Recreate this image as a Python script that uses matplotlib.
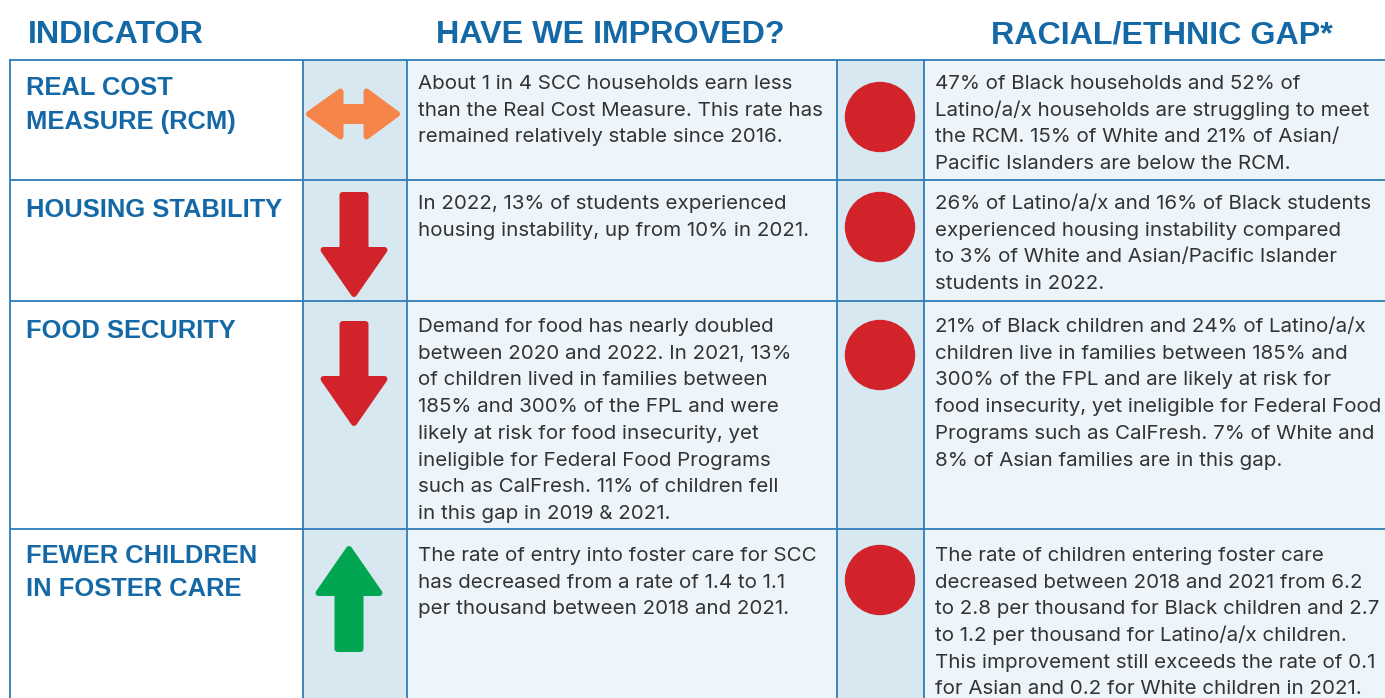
import matplotlib
matplotlib.use("Agg")
import matplotlib.pyplot as plt
from matplotlib.patches import Rectangle, Polygon, Circle

# ---------------- data ----------------
headers = ["INDICATOR", "HAVE WE IMPROVED?", "RACIAL/ETHNIC GAP*"]

indicators = [
    ["REAL COST", "MEASURE (RCM)"],
    ["HOUSING STABILITY"],
    ["FOOD SECURITY"],
    ["FEWER CHILDREN", "IN FOSTER CARE"],
]

trends = ["flat", "down", "down", "up"]          # have we improved?
gap_status = ["red", "red", "red", "red"]        # racial/ethnic gap

improvement_text = [
    ["About 1 in 4 SCC households earn less",
     "than the Real Cost Measure. This rate has",
     "remained relatively stable since 2016."],
    ["In 2022, 13% of students experienced",
     "housing instability, up from 10% in 2021."],
    ["Demand for food has nearly doubled",
     "between 2020 and 2022. In 2021, 13%",
     "of children lived in families between",
     "185% and 300% of the FPL and were",
     "likely at risk for food insecurity, yet",
     "ineligible for Federal Food Programs",
     "such as CalFresh. 11% of children fell",
     "in this gap in 2019 & 2021."],
    ["The rate of entry into foster care for SCC",
     "has decreased from a rate of 1.4 to 1.1",
     "per thousand between 2018 and 2021."],
]

gap_text = [
    ["47% of Black households and 52% of",
     "Latino/a/x households are struggling to meet",
     "the RCM. 15% of White and 21% of Asian/",
     "Pacific Islanders are below the RCM."],
    ["26% of Latino/a/x and 16% of Black students",
     "experienced housing instability compared",
     "to 3% of White and Asian/Pacific Islander",
     "students in 2022."],
    ["21% of Black children and 24% of Latino/a/x",
     "children live in families between 185% and",
     "300% of the FPL and are likely at risk for",
     "food insecurity, yet ineligible for Federal Food",
     "Programs such as CalFresh. 7% of White and",
     "8% of Asian families are in this gap."],
    ["The rate of children entering foster care",
     "decreased between 2018 and 2021 from 6.2",
     "to 2.8 per thousand for Black children and 2.7",
     "to 1.2 per thousand for Latino/a/x children.",
     "This improvement still exceeds the rate of 0.1",
     "for Asian and 0.2 for White children in 2021."],
]

# ---------------- style / layout ----------------
W, H = 1385, 698
BLUE = "#1468a6"
LINE = "#2f7db9"
ICON_BG = "#d8e8f1"
TEXT_BG = "#eef5fa"
TXT = "#333333"
COLORS = {"flat": "#f6854b", "down": "#d2232a", "up": "#00a651", "red": "#d2232a"}

col_x = [10, 303, 407, 837, 924, 1400]
row_y = [60, 180, 301, 529, 720]
icon_top = [None, 192, 321, 545]           # arrow extents per row
icon_bot = [None, 298, 427, 652]
icon_cx = [354, 354, 354, 349]
circle_cy = [117, 227, 355, 580]
label_base = [95, 217, 338, 563]
body_base = [89, 209, 332, 561]

fig = plt.figure(figsize=(W / 100, H / 100), dpi=100)
ax = fig.add_axes([0, 0, 1, 1])
ax.set_xlim(0, W)
ax.set_ylim(H, 0)
ax.axis("off")

# backgrounds
ax.add_patch(Rectangle((0, 0), W, H, color="white", zorder=0))
for i, c in enumerate(["white", ICON_BG, TEXT_BG, ICON_BG, TEXT_BG]):
    ax.add_patch(Rectangle((col_x[i], row_y[0]), col_x[i + 1] - col_x[i],
                           row_y[-1] - row_y[0], color=c, zorder=1, lw=0))

# grid lines
for x in col_x[:-1]:
    ax.plot([x, x], [row_y[0], H + 5], color=LINE, lw=1.3, zorder=2)
for y in row_y[:-1]:
    ax.plot([col_x[0], W + 5], [y, y], color=LINE, lw=1.3, zorder=2)

# headers
hfont = dict(family="Liberation Sans", weight="bold", size=23.2, color=BLUE)
ax.text(28, 43, headers[0], ha="left", va="baseline", **hfont)
ax.text(610, 43, headers[1], ha="center", va="baseline", **hfont)
ax.text(1162, 43, headers[2], ha="center", va="baseline", **hfont)

lfont = dict(family="Liberation Sans", weight="bold", size=18.4, color=BLUE)
bfont = dict(family="Inter", size=14.8, color=TXT)


def draw_arrow(kind, cx, top, bot, color):
    r = 3.0  # corner rounding via stroke
    lw = 2 * r * 72 / 100
    if kind == "flat":
        cy = 114
        l, rr = 305 + r + 1, 401 - r - 1
        hb_l, hb_r = 341 - 0.5, 366 + 0.5
        hh = 25.5 - r
        sh = 10 - r
        pts = [(l, cy), (hb_l, cy - hh), (hb_l, cy - sh), (hb_r, cy - sh),
               (hb_r, cy - hh), (rr, cy), (hb_r, cy + hh), (hb_r, cy + sh),
               (hb_l, cy + sh), (hb_l, cy + hh)]
    else:
        sw = 14.5 - r
        hw = 33.5 - r
        hl = 46
        if kind == "down":
            t, tip = top + r, bot - r - 1
            hy = tip - hl + 2
            pts = [(cx - sw, t), (cx + sw, t), (cx + sw, hy), (cx + hw, hy),
                   (cx, tip), (cx - hw, hy), (cx - sw, hy)]
        else:
            tip, b = top + r + 1, bot - r
            hy = tip + hl - 2
            pts = [(cx - sw, b), (cx + sw, b), (cx + sw, hy), (cx + hw, hy),
                   (cx, tip), (cx - hw, hy), (cx - sw, hy)]
    ax.add_patch(Polygon(pts, closed=True, facecolor=color, edgecolor=color,
                         lw=lw, joinstyle="round", zorder=3))


for i in range(len(indicators)):
    # indicator label
    for k, line in enumerate(indicators[i]):
        ax.text(26, label_base[i] + k * 33.5, line, ha="left", va="baseline", **lfont)
    # trend icon
    draw_arrow(trends[i], icon_cx[i], icon_top[i], icon_bot[i], COLORS[trends[i]])
    # improvement text
    for k, line in enumerate(improvement_text[i]):
        ax.text(418, body_base[i] + k * 26.7, line, ha="left", va="baseline", **bfont)
    # gap circle
    ax.add_patch(Circle((880, circle_cy[i]), 34.5, color=COLORS[gap_status[i]], zorder=3))
    # gap text
    for k, line in enumerate(gap_text[i]):
        ax.text(935, body_base[i] + k * 26.7, line, ha="left", va="baseline", **bfont)

fig.savefig("out.png", dpi=100)
